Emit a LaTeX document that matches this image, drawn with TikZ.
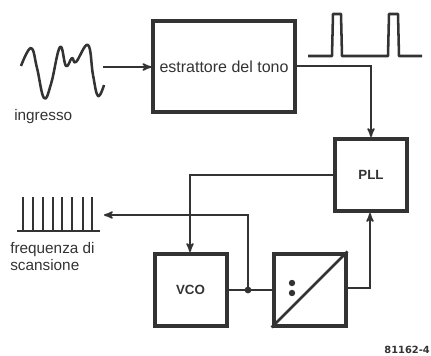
\documentclass[tikz,border=0pt]{standalone}
\usepackage{fontspec}
\setmainfont{Liberation Sans}
\newfontfamily\codefont{DejaVu Sans}
\usepackage{xcolor}
\usetikzlibrary{arrows}
\definecolor{inkgray}{gray}{0.2}
\tikzset{
    blockbox/.style={draw=inkgray, line width=3pt, minimum width=#1, minimum height=#1, inner sep=0pt},
    wire/.style={draw=inkgray, line width=1.3pt},
    arrowwire/.style={wire, -stealth'},
    trace/.style={draw=inkgray, line width=1.9pt, line join=round},
    caption/.style={text=inkgray, font=\fontsize{11.5}{12}\selectfont, inner sep=0pt, align=left}
}
\begin{document}
\begin{tikzpicture}[x=0.75pt,y=-0.75pt]
    \useasboundingbox (0,0) rectangle (431,356);
    % blocks
    \node[blockbox=50pt, minimum width=106pt, minimum height=68pt, text=inkgray, font=\fontsize{12}{12}\selectfont] (estrattore) at (224,66.5) {estrattore del tono};
    \node[blockbox=54pt, font=\bfseries\fontsize{10}{10}\selectfont, text=inkgray] (pll) at (371,175) {PLL};
    \node[blockbox=54pt, font=\bfseries\fontsize{10}{10}\selectfont, text=inkgray] (vco) at (190.5,290) {VCO};
    \node[blockbox=54pt] (divider) at (309.5,289.5) {};
    \draw[line width=1.9pt, draw=inkgray] (divider.south west) -- (divider.north east);
    \fill[inkgray] (292,283) circle (3.2) (292,293) circle (3.2);
    % free ends and corners
    \coordinate (inA) at (103,67);
    \coordinate (outB) at (104,215);
    \coordinate (cornerA) at (371,66);
    \coordinate (cornerB) at (190,175);
    \coordinate (cornerC) at (248,215);
    \coordinate (cornerD) at (370,288);
    \coordinate (junction) at (248,290);
    % connectors
    \draw[arrowwire] (inA) -- (estrattore.west |- inA);
    \draw[arrowwire] (estrattore.east |- cornerA) -- (cornerA) -- (pll.north);
    \draw[arrowwire] (pll.west |- cornerB) -- (cornerB) -- (vco.north -| cornerB);
    \draw[arrowwire] (junction) -- (cornerC) -- (outB);
    \draw[wire] (vco.east |- junction) -- (junction) -- (divider.west |- junction);
    \draw[arrowwire] (divider.east |- cornerD) -- (cornerD) -- (pll.south -| cornerD);
    \fill[inkgray] (junction) circle (3.4);
    % input signal
    \draw[trace] plot[smooth, tension=0.7] coordinates {(21,66) (31,48) (37,68) (44,98) (51,84) (60,47) (66,66) (72,58) (76,62) (88,45) (93,75) (98,96) (104,85)};
    % pulses
    \draw[trace] (308,56) -- (332,56) -- (333,14) -- (341,14) -- (342,56) -- (388,56) -- (389,14) -- (398,14) -- (399,56) -- (422,56);
    % comb
    \draw[trace] (17,231) -- (100,231);
    \foreach \x in {23,33,43,53,62,72,83,92}
        \draw[trace] (\x,197) -- (\x,231);
    % labels
    \node[caption, anchor=west] (ingresso) at (14,117) {ingresso};
    \node[caption, anchor=north west] (frequenza) at (10,242) {frequenza di\\[1pt]scansione};
    \node[text=inkgray, font=\codefont\bfseries\fontsize{7.4}{10}\selectfont, anchor=east, inner sep=0pt] (code) at (430,350) {81162-4};
\end{tikzpicture}
\end{document}
